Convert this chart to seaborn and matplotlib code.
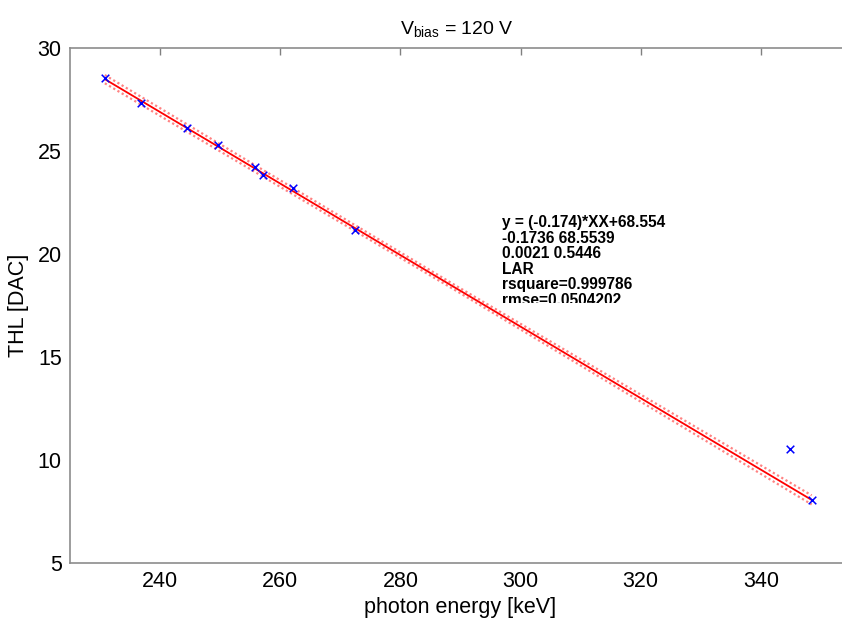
import matplotlib
matplotlib.use("Agg")
import matplotlib.pyplot as plt
import matplotlib.transforms as mtransforms
import numpy as np
import pandas as pd
import seaborn as sns

# ---- data ----
energy_keV = [230.8, 236.9, 244.4, 249.6, 255.8, 257.1, 262.2, 272.5, 344.9, 348.45]
thl_dac = [28.53, 27.34, 26.10, 25.29, 24.24, 23.83, 23.19, 21.17, 10.53, 8.06]

fit_slope = -0.1736
fit_intercept = 68.5539
fit_x = [230.8, 289.6, 348.45]
band_half = [0.20, 0.12, 0.22]

x_ticks = [240, 260, 280, 300, 320, 340]
y_ticks = [5, 10, 15, 20, 25, 30]

fit_text = ["y = (-0.174)*XX+68.554",
            "-0.1736 68.5539",
            "0.0021 0.5446",
            "LAR",
            "rsquare=0.999786",
            "rmse=0.0504202"]

# ---- style ----
sns.set_style("white")
plt.rcParams["font.family"] = ["Liberation Sans", "DejaVu Sans"]
plt.rcParams["mathtext.fontset"] = "custom"
plt.rcParams["mathtext.rm"] = "Liberation Sans"
plt.rcParams["mathtext.it"] = "Liberation Sans"
plt.rcParams["text.color"] = "black"
plt.rcParams["axes.labelcolor"] = "black"
plt.rcParams["xtick.color"] = "black"
plt.rcParams["ytick.color"] = "black"

W, H = 842, 621
fig = plt.figure(figsize=(W / 100, H / 100), dpi=100)
left_px, right_px, top_px, bottom_px = 70, 851, 48, 563
ax = fig.add_axes([left_px / W, 1 - bottom_px / H,
                   (right_px - left_px) / W, (bottom_px - top_px) / H])

fx = np.array(fit_x)
fy = fit_slope * fx + fit_intercept
hb = np.array(band_half)
df_fit = pd.DataFrame({"x": np.concatenate([fx, fx, fx]),
                       "y": np.concatenate([fy, fy + hb, fy - hb]),
                       "kind": ["fit"] * 3 + ["up"] * 3 + ["lo"] * 3})

sns.lineplot(data=df_fit[df_fit.kind == "up"], x="x", y="y", ax=ax,
             color=(1, 0.3, 0.3), lw=1.6, linestyle=(0, (1, 1.2)), alpha=0.7)
sns.lineplot(data=df_fit[df_fit.kind == "lo"], x="x", y="y", ax=ax,
             color=(1, 0.3, 0.3), lw=1.6, linestyle=(0, (1, 1.2)), alpha=0.7)
sns.lineplot(data=df_fit[df_fit.kind == "fit"], x="x", y="y", ax=ax,
             color="red", lw=1.3)

df_pts = pd.DataFrame({"x": energy_keV, "y": thl_dac})
sns.scatterplot(data=df_pts, x="x", y="y", ax=ax, marker="x", color="blue",
                s=30, linewidth=1.1, zorder=5)

ax.set_xlim(225, 240 + (right_px - 161) / 6.0)
ax.set_ylim(5, 30)
ax.set_xticks(x_ticks)
ax.set_yticks(y_ticks)
ax.tick_params(axis="both", direction="in", length=5, width=1, color="#808080",
               labelcolor="black", labelsize=15.5, top=True, right=False, pad=6)
for s in ["left", "bottom", "top"]:
    ax.spines[s].set_color("#8c8c8c")
    ax.spines[s].set_linewidth(1.2)
ax.spines["right"].set_visible(False)

ax.set_xlabel("photon energy [keV]", fontsize=15.5, labelpad=3)
ax.set_ylabel("THL [DAC]", fontsize=15.5, labelpad=6)
ax.set_title(r"V$_{\rm bias}$ = 120 V", fontsize=14, pad=10,
             x=(457 - left_px) / (right_px - left_px))

# fit annotation, clipped at the bottom like the reference
clip_box = mtransforms.TransformedBbox(
    mtransforms.Bbox.from_extents(0, 1 - 303 / H, 1, 1), fig.transFigure)
txt_x = 502 / W
for i, line in enumerate(fit_text):
    t = fig.text(txt_x, 1 - (223 + i * 15.5) / H, line, fontsize=11.2,
                 fontweight="bold", va="center", ha="left", color="black")
    t.set_clip_box(clip_box)
    t.set_clip_on(True)

fig.savefig("out.png", dpi=100)
